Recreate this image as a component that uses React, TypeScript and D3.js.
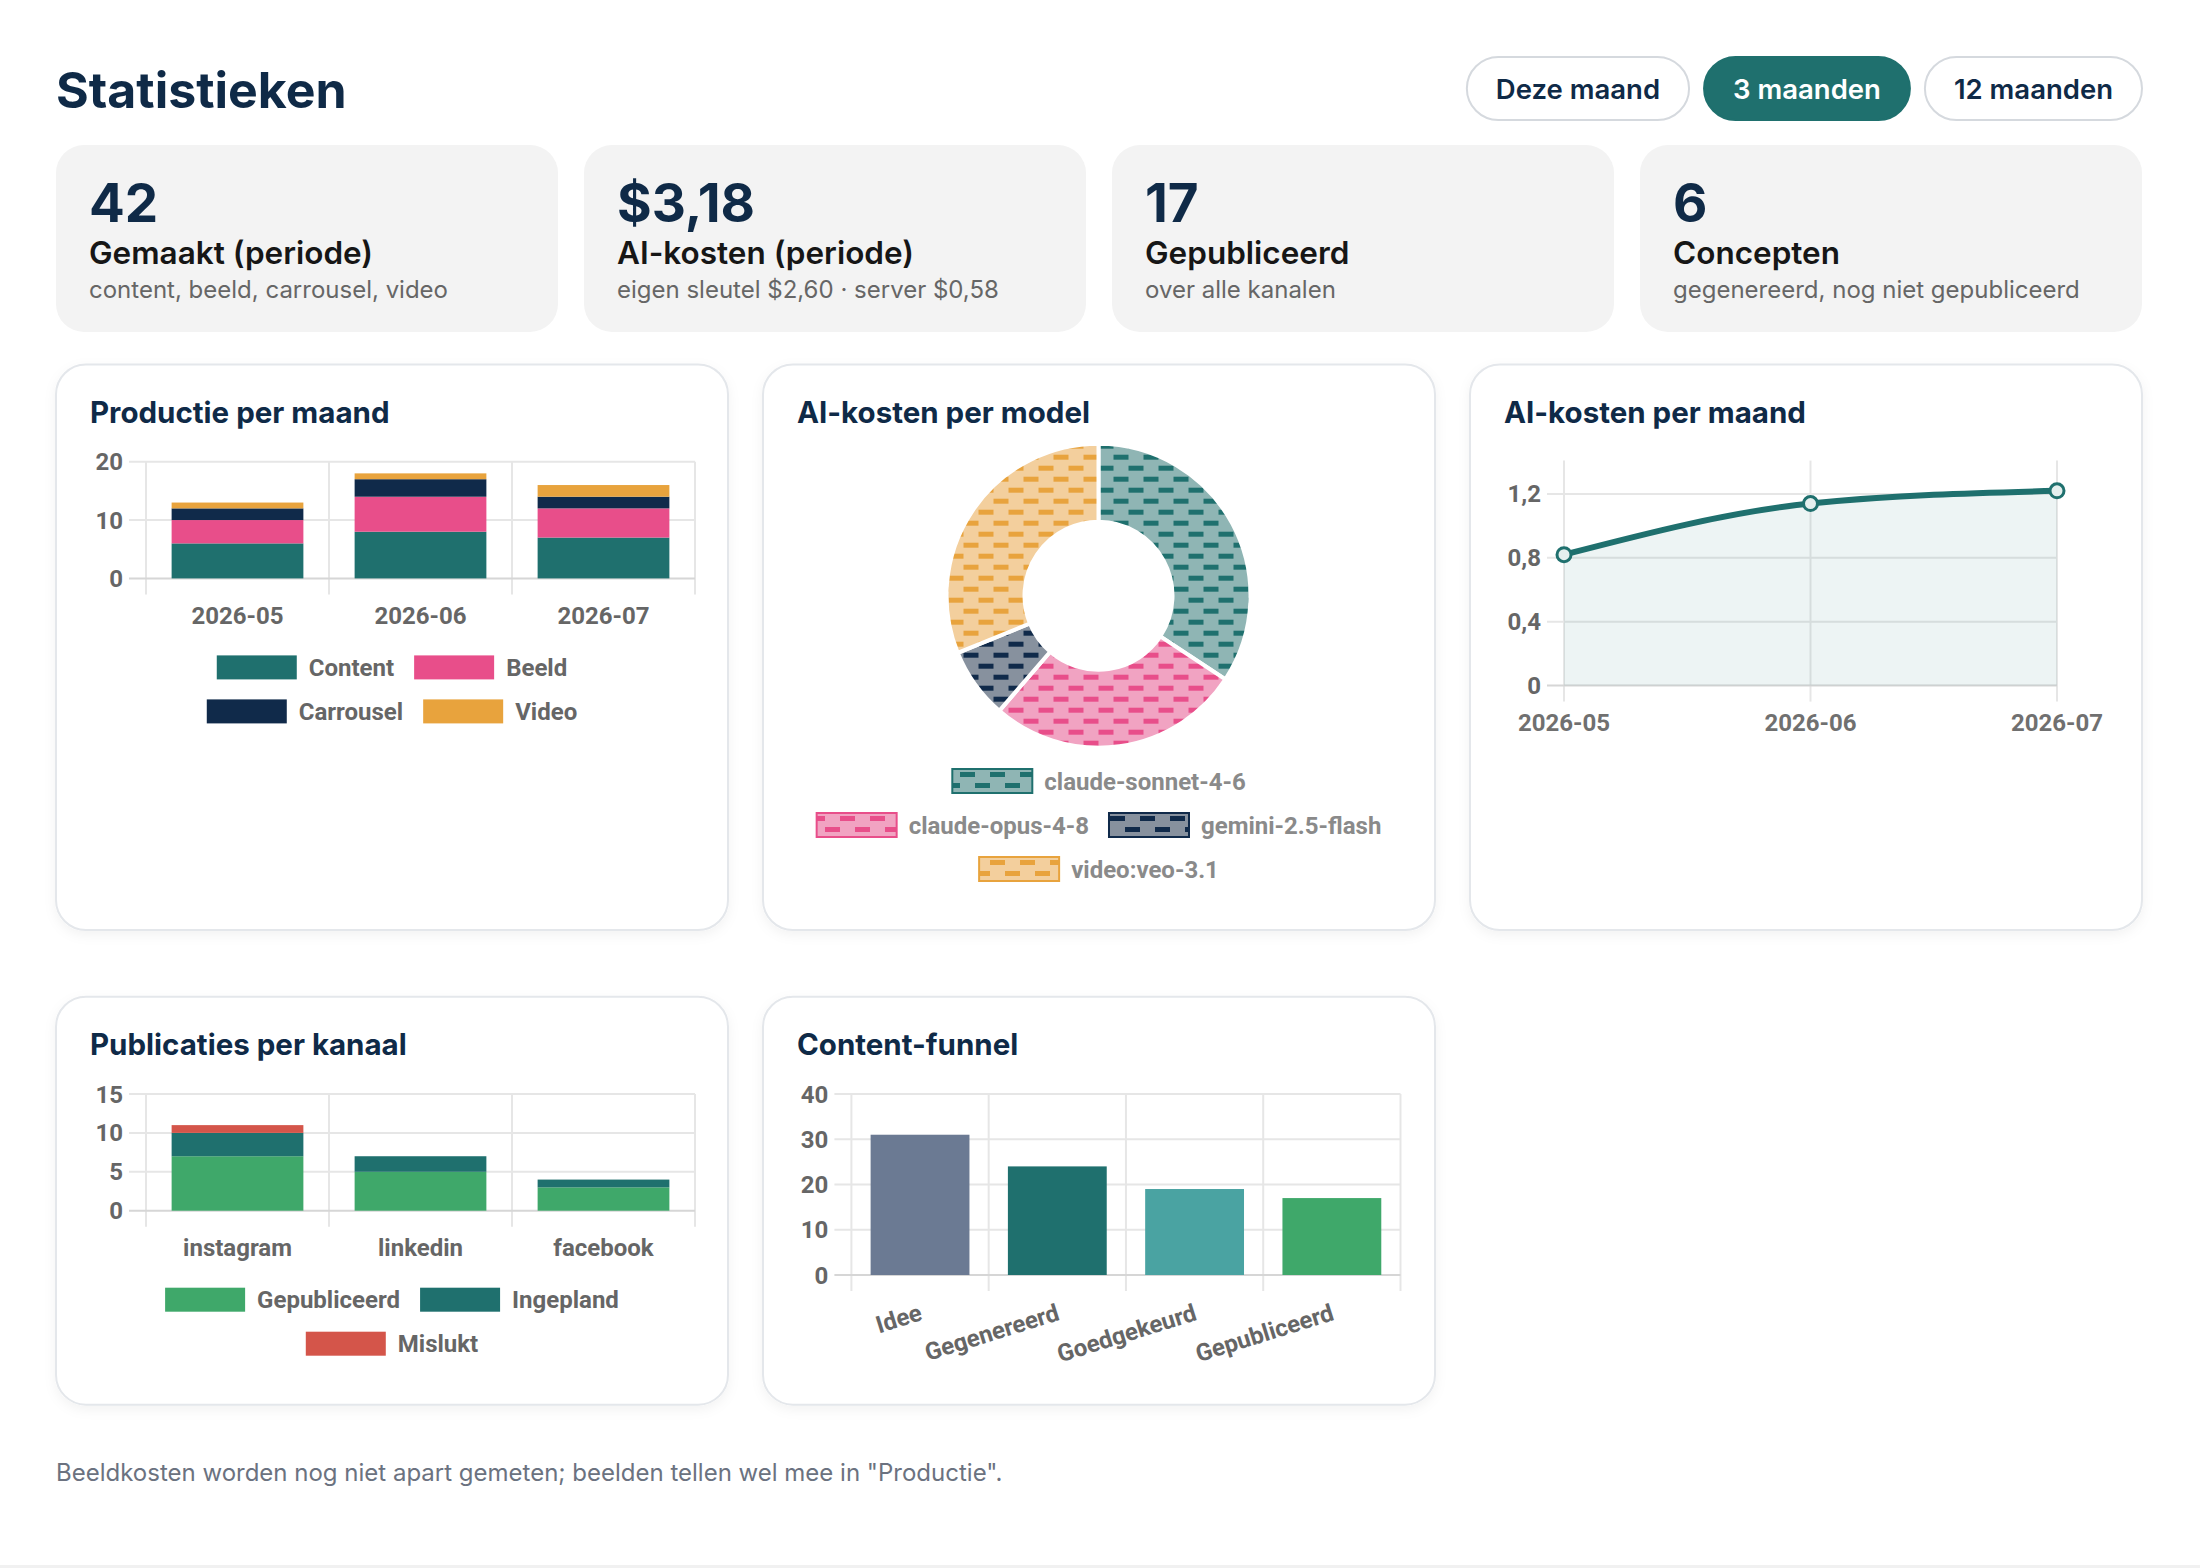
import React from 'react';
import * as d3 from 'd3';

const W = 2200;
const H = 1568;
const NAVY = '#0f2a47';
const TEAL = '#1f706e';
const UI = "Inter, 'Noto Sans', sans-serif";
const CH = "Roboto, 'Noto Sans', sans-serif";
const TICK = '#666666';
const GRID = '#e6e6e6';

// header
const periods = ['Deze maand', '3 maanden', '12 maanden'];
const activePeriod = '3 maanden';

// stat cards
const statValues = ['42', '$3,18', '17', '6'];
const statLabels = ['Gemaakt (periode)', 'AI-kosten (periode)', 'Gepubliceerd', 'Concepten'];
const statNotes = [
  'content, beeld, carrousel, video',
  'eigen sleutel $2,60 · server $0,58',
  'over alle kanalen',
  'gegenereerd, nog niet gepubliceerd',
];

// productie per maand
const months = ['2026-05', '2026-06', '2026-07'];
const prodSeries = ['Content', 'Beeld', 'Carrousel', 'Video'];
const prodColors = [TEAL, '#e84e8a', '#102a4a', '#e8a33d'];
const prodContent = [6, 8, 7];
const prodBeeld = [4, 6, 5];
const prodCarrousel = [2, 3, 2];
const prodVideo = [1, 1, 2];
const prodTicks = [0, 10, 20];

// ai-kosten per model
const models = ['claude-sonnet-4-6', 'claude-opus-4-8', 'gemini-2.5-flash', 'video:veo-3.1'];
const modelCosts = [1.09, 0.86, 0.24, 0.99];
const modelColors = [TEAL, '#e84e8a', '#102a4a', '#e8a33d'];
const modelTints = ['#8fb5b4', '#f1a3c2', '#87919e', '#f3cf9d'];

// ai-kosten per maand
const monthCosts = [0.82, 1.14, 1.22];
const costTicks = [0, 0.4, 0.8, 1.2];

// publicaties per kanaal
const channels = ['instagram', 'linkedin', 'facebook'];
const pubSeries = ['Gepubliceerd', 'Ingepland', 'Mislukt'];
const pubColors = ['#3fa86a', TEAL, '#d4554a'];
const pubPublished = [7, 5, 3];
const pubPlanned = [3, 2, 1];
const pubFailed = [1, 0, 0];
const pubTicks = [0, 5, 10, 15];

// content-funnel
const stages = ['Idee', 'Gegenereerd', 'Goedgekeurd', 'Gepubliceerd'];
const stageCounts = [31, 24, 19, 17];
const stageColors = ['#6b7a93', TEAL, '#4aa3a2', '#3fa86a'];
const funnelTicks = [0, 10, 20, 30, 40];

let measureCtx: CanvasRenderingContext2D | null = null;
function textWidth(t: string, font: string) {
  if (!measureCtx) measureCtx = document.createElement('canvas').getContext('2d');
  measureCtx!.font = font;
  return measureCtx!.measureText(t).width;
}

const LEGEND_FONT = `bold 24px ${CH}`;

function Legend({ items, rows, cx, y0, color = TICK }) {
  let idx = 0;
  return (
    <g>
      {rows.map((n, r) => {
        const row = items.slice(idx, idx + n);
        idx += n;
        const widths = row.map(it => 80 + 12 + textWidth(it.label, LEGEND_FONT));
        const total = d3.sum(widths) + 20 * (row.length - 1);
        let x = cx - total / 2;
        const yc = y0 + r * 44;
        return row.map((it, i) => {
          const x0 = x;
          x += widths[i] + 20;
          return (
            <g key={it.label}>
              <rect x={x0} y={yc - 12} width={80} height={24} fill={it.fill}
                stroke={it.stroke || 'none'} strokeWidth={it.stroke ? 2 : 0} />
              <text x={x0 + 92} y={yc + 8.5} fontFamily={CH} fontWeight="bold" fontSize={24} fill={color}>{it.label}</text>
            </g>
          );
        });
      })}
    </g>
  );
}

function Card({ x, y, w, h, title }) {
  return (
    <g>
      <rect x={x} y={y} width={w} height={h} rx={30} fill="#fff" stroke="#e4e7eb" strokeWidth={2} filter="url(#shadow)" />
      <text x={x + 34} y={y + 58.6} fontFamily={UI} fontWeight={700} fontSize={29.5} fill={NAVY}>{title}</text>
    </g>
  );
}

function YAxis({ ticks, y, left, right, fmt = (d: number) => String(d) }) {
  return (
    <g>
      {ticks.map(t => (
        <g key={t}>
          <line x1={left - 17} x2={right} y1={y(t)} y2={y(t)} stroke={t === 0 ? '#d6d6d6' : GRID} strokeWidth={2} />
          <text x={left - 23} y={y(t) + 8.5} textAnchor="end" fontFamily={CH} fontWeight="bold" fontSize={24} fill={TICK}>{fmt(t)}</text>
        </g>
      ))}
    </g>
  );
}

function StackedBars({ cx, cy, title, categories, keys, values, colors, ticks, legendRows }) {
  const pl = cx + 90, pr = cx + 639, pt = cy + 97.3, pb = cy + 214;
  const rows = categories.map((c, i) => {
    const o: any = { cat: c };
    keys.forEach((k, j) => { o[k] = values[j][i]; });
    return o;
  });
  const stacked = d3.stack().keys(keys)(rows);
  const x = d3.scaleBand().domain(categories).range([pl, pr]);
  const y = d3.scaleLinear().domain([0, ticks[ticks.length - 1]]).range([pb, pt]);
  const bw = x.bandwidth();
  const edges = [...categories.map(c => x(c)), pr];
  return (
    <g>
      <Card x={cx} y={cy} w={672} h={cy > 900 ? 408 : 565.6} title={title} />
      {edges.map((e, i) => (
        <line key={i} x1={e} x2={e} y1={pt} y2={pb + 16} stroke={GRID} strokeWidth={2} />
      ))}
      <YAxis ticks={ticks} y={y} left={pl} right={pr} />
      {stacked.map((s, j) => (
        <g key={s.key} fill={colors[j]}>
          {s.map((d, i) => d[1] > d[0] && (
            <rect key={i} x={x(categories[i]) + bw * 0.14} width={bw * 0.72} y={y(d[1])} height={y(d[0]) - y(d[1])} />
          ))}
        </g>
      ))}
      {categories.map(c => (
        <text key={c} x={x(c) + bw / 2} y={pb + 45.4} textAnchor="middle" fontFamily={CH} fontWeight="bold" fontSize={24} fill={TICK}>{c}</text>
      ))}
      <Legend items={keys.map((k, j) => ({ label: k, fill: colors[j] }))} rows={legendRows} cx={cx + 336} y0={cy + 303} />
    </g>
  );
}

function Donut({ cx, cy }) {
  const c = [cx + 335.5, cy + 231.3];
  const pie = d3.pie<number>().sort(null)(modelCosts);
  const arc = d3.arc<d3.PieArcDatum<number>>().innerRadius(74).outerRadius(152);
  return (
    <g>
      <Card x={cx} y={cy} w={672} h={565.6} title="AI-kosten per model" />
      <g transform={`translate(${c[0]},${c[1]})`}>
        {pie.map((p, i) => (
          <path key={i} d={arc(p)} fill={`url(#pat${i})`} stroke="#fff" strokeWidth={4} />
        ))}
      </g>
      <Legend items={models.map((m, i) => ({ label: m, fill: `url(#pat${i})`, stroke: modelColors[i] }))}
        rows={[1, 2, 1]} cx={cx + 336} y0={cy + 416.6} color="#8a8a8a" />
    </g>
  );
}

function CostLine({ cx, cy }) {
  const pl = cx + 94, pr = cx + 587, pt = cy + 96.2, pb = cy + 321.2;
  const x = d3.scalePoint().domain(months).range([pl, pr]);
  const y = d3.scaleLinear().domain([0, d3.max(monthCosts) * 1.155]).range([pb, pt]);
  const pts = months.map((m, i) => [x(m), y(monthCosts[i])] as [number, number]);
  const line = d3.line().curve(d3.curveMonotoneX)(pts);
  const area = d3.area().curve(d3.curveMonotoneX).y0(pb)(pts);
  return (
    <g>
      <Card x={cx} y={cy} w={672} h={565.6} title="AI-kosten per maand" />
      {months.map(m => (
        <line key={m} x1={x(m)} x2={x(m)} y1={pt} y2={pb + 16} stroke={GRID} strokeWidth={2} />
      ))}
      <YAxis ticks={costTicks} y={y} left={pl} right={pr} fmt={d => String(d).replace('.', ',')} />
      <path d={area} fill={TEAL} fillOpacity={0.08} />
      <path d={line} fill="none" stroke={TEAL} strokeWidth={6} strokeLinejoin="round" />
      {pts.map((p, i) => (
        <circle key={i} cx={p[0]} cy={p[1]} r={7} fill="#e4efee" stroke={TEAL} strokeWidth={3} />
      ))}
      {months.map(m => (
        <text key={m} x={x(m)} y={pb + 45.4} textAnchor="middle" fontFamily={CH} fontWeight="bold" fontSize={24} fill="#707070">{m}</text>
      ))}
    </g>
  );
}

function Funnel({ cx, cy }) {
  const pl = cx + 88.4, pr = cx + 637.5, pt = cy + 97.3, pb = cy + 278.3;
  const x = d3.scaleBand().domain(stages).range([pl, pr]);
  const y = d3.scaleLinear().domain([0, funnelTicks[funnelTicks.length - 1]]).range([pb, pt]);
  const bw = x.bandwidth();
  const edges = [...stages.map(s => x(s)), pr];
  return (
    <g>
      <Card x={cx} y={cy} w={672} h={408} title="Content-funnel" />
      {edges.map((e, i) => (
        <line key={i} x1={e} x2={e} y1={pt} y2={pb + 16} stroke={GRID} strokeWidth={2} />
      ))}
      <YAxis ticks={funnelTicks} y={y} left={pl} right={pr} />
      {stages.map((s, i) => (
        <rect key={s} x={x(s) + bw * 0.14} width={bw * 0.72} y={y(stageCounts[i])} height={pb - y(stageCounts[i])} fill={stageColors[i]} />
      ))}
      {stages.map(s => (
        <text key={s} transform={`translate(${x(s) + bw / 2 + 1},${pb + 37}) rotate(-17.3)`} textAnchor="end" dominantBaseline="central"
          fontFamily={CH} fontWeight="bold" fontSize={24} fill={TICK}>{s}</text>
      ))}
    </g>
  );
}

function Header() {
  const font = `600 27.5px ${UI}`;
  const widths = periods.map(p => textWidth(p, font) + 58);
  let x = 2142 - d3.sum(widths) - 15 * (periods.length - 1);
  return (
    <g>
      <text x={56} y={108.3} fontFamily={UI} fontWeight={700} fontSize={50} fill={NAVY}>Statistieken</text>
      {periods.map((p, i) => {
        const x0 = x;
        x += widths[i] + 15;
        const on = p === activePeriod;
        return (
          <g key={p}>
            <rect x={x0} y={57} width={widths[i]} height={63} rx={31.5} fill={on ? TEAL : '#fff'} stroke={on ? TEAL : '#d5d9de'} strokeWidth={2} />
            <text x={x0 + widths[i] / 2} y={98.5} textAnchor="middle" fontFamily={UI} fontWeight={600} fontSize={27.5} fill={on ? '#fff' : NAVY}>{p}</text>
          </g>
        );
      })}
    </g>
  );
}

function StatCards() {
  return (
    <g>
      {statValues.map((v, i) => {
        const x = 56 + i * 528;
        return (
          <g key={i}>
            <rect x={x} y={145} width={502} height={187} rx={28} fill="#f3f3f3" />
            <text x={x + 33} y={221.7} fontFamily={UI} fontWeight={700} fontSize={53} fill={NAVY}>{v}</text>
            <text x={x + 33} y={264} fontFamily={UI} fontWeight={600} fontSize={31.5} fill="#161616">{statLabels[i]}</text>
            <text x={x + 33} y={297.7} fontFamily={UI} fontSize={24} fill="#666">{statNotes[i]}</text>
          </g>
        );
      })}
    </g>
  );
}

export default function App() {
  return (
    <svg width={W} height={H} style={{ position: 'absolute', left: 0, top: 0, background: '#fff' }}>
      <defs>
        <filter id="shadow" x="-10%" y="-10%" width="120%" height="130%">
          <feDropShadow dx={0} dy={4} stdDeviation={6} floodColor="#000" floodOpacity={0.05} />
        </filter>
        {modelColors.map((c, i) => (
          <pattern key={i} id={`pat${i}`} width={30} height={22} patternUnits="userSpaceOnUse">
            <rect width={30} height={22} fill={modelTints[i]} />
            <rect x={0} y={2} width={15} height={5} fill={c} />
            <rect x={15} y={13} width={15} height={5} fill={c} />
          </pattern>
        ))}
      </defs>
      <Header />
      <StatCards />
      <StackedBars cx={56} cy={364.4} title="Productie per maand" categories={months} keys={prodSeries}
        values={[prodContent, prodBeeld, prodCarrousel, prodVideo]} colors={prodColors} ticks={prodTicks} legendRows={[2, 2]} />
      <Donut cx={763} cy={364.4} />
      <CostLine cx={1470} cy={364.4} />
      <StackedBars cx={56} cy={996.7} title="Publicaties per kanaal" categories={channels} keys={pubSeries}
        values={[pubPublished, pubPlanned, pubFailed]} colors={pubColors} ticks={pubTicks} legendRows={[2, 1]} />
      <Funnel cx={763} cy={996.7} />
      <text x={56} y={1481} fontFamily={UI} fontSize={24} fill="#6b7280">
        Beeldkosten worden nog niet apart gemeten; beelden tellen wel mee in "Productie".
      </text>
      <rect x={0} y={1565} width={W} height={3} fill="#f1f1f1" />
    </svg>
  );
}
